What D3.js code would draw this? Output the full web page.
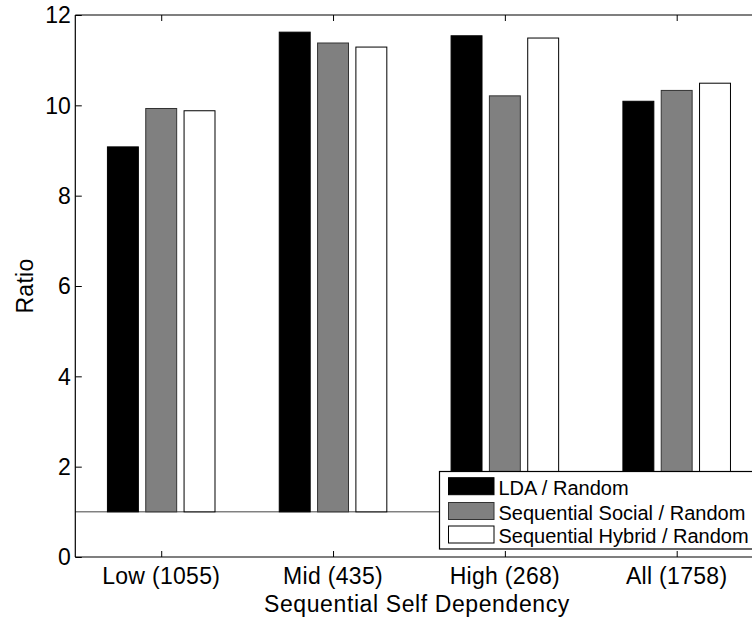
<!DOCTYPE html>
<html>
<head>
<meta charset="utf-8">
<script src="https://cdn.jsdelivr.net/npm/d3@7"></script>
<style>
  html, body { margin: 0; padding: 0; background: #fff; }
  svg { display: block; }
  text { font-family: "Liberation Sans", Arial, Helvetica, sans-serif; fill: #000; }
</style>
</head>
<body>
<svg id="chart" width="752" height="617"></svg>
<script>
// Ratio of each method over the random baseline, per dependency group
const categories = ["Low (1055)", "Mid (435)", "High (268)", "All (1758)"];
const seriesNames = ["LDA / Random", "Sequential Social / Random", "Sequential Hybrid / Random"];
const ldaValues     = [9.08, 11.62, 11.54, 10.09];
const socialValues  = [9.93, 11.38, 10.21, 10.33];
const hybridValues  = [9.88, 11.29, 11.49, 10.49];
const yTicks = [0, 2, 4, 6, 8, 10, 12];
const baselineValue = 1;

const series = [ldaValues, socialValues, hybridValues];
const fills   = ["#000000", "#808080", "#ffffff"];
const strokes = ["#000000", "#333333", "#000000"];

const svg = d3.select("#chart");

// Axes box: the right edge sits just past the window edge
const plotLeft = 75.3, plotRight = 762.6, plotTop = 15, plotBottom = 557;

const x = d3.scaleLinear().domain([0.5, categories.length + 0.5]).range([plotLeft, plotRight]);
const y = d3.scaleLinear().domain([0, 12]).range([plotBottom, plotTop]);

const groupOffset = 0.223;   // spacing between bars within a group (data units)
const barWidth = 0.18;       // bar width (data units)

// Baseline at ratio = 1
svg.append("line")
  .attr("x1", x(0.5)).attr("x2", x(categories.length + 0.5))
  .attr("y1", y(baselineValue)).attr("y2", y(baselineValue))
  .attr("stroke", "#444").attr("stroke-width", 1);

// Bars rise from the baseline
series.forEach((vals, j) => {
  svg.append("g").selectAll("rect")
    .data(vals)
    .join("rect")
    .attr("x", (d, i) => x(i + 1 + (j - 1) * groupOffset - barWidth / 2))
    .attr("width", x(barWidth) - x(0))
    .attr("y", d => y(d))
    .attr("height", d => y(baselineValue) - y(d))
    .attr("fill", fills[j])
    .attr("stroke", strokes[j])
    .attr("stroke-width", 1);
});

// Axes frame (left, top, bottom)
const frame = svg.append("g").attr("fill", "none").attr("stroke", "#000").attr("stroke-width", 1.2);
frame.append("line").attr("x1", plotLeft).attr("x2", plotLeft).attr("y1", plotTop).attr("y2", plotBottom);
frame.append("line").attr("x1", plotLeft).attr("x2", plotRight).attr("y1", plotTop).attr("y2", plotTop);
frame.append("line").attr("x1", plotLeft).attr("x2", plotRight).attr("y1", plotBottom).attr("y2", plotBottom);

// Y axis: inward ticks, labels on the left
const yAxis = d3.axisRight(y).tickValues(yTicks).tickSize(6.5).tickFormat("");
svg.append("g").attr("transform", `translate(${plotLeft},0)`).call(yAxis)
  .call(g => g.select(".domain").remove())
  .call(g => g.selectAll(".tick line").attr("stroke", "#000"));

svg.append("g").selectAll("text")
  .data(yTicks)
  .join("text")
  .attr("x", plotLeft - 4.5)
  .attr("y", d => y(d))
  .attr("dy", "0.36em")
  .attr("text-anchor", "end")
  .attr("font-size", 23)
  .text(d => d);

// X axis: inward ticks on bottom and top
const tickIdx = categories.map((c, i) => i + 1);
const xBottom = d3.axisTop(x).tickValues(tickIdx).tickSize(6).tickFormat("");
svg.append("g").attr("transform", `translate(0,${plotBottom})`).call(xBottom)
  .call(g => g.select(".domain").remove())
  .call(g => g.selectAll(".tick line").attr("stroke", "#000"));
const xTop = d3.axisBottom(x).tickValues(tickIdx).tickSize(6).tickFormat("");
svg.append("g").attr("transform", `translate(0,${plotTop})`).call(xTop)
  .call(g => g.select(".domain").remove())
  .call(g => g.selectAll(".tick line").attr("stroke", "#000"));

svg.append("g").selectAll("text")
  .data(categories)
  .join("text")
  .attr("x", (d, i) => x(i + 1))
  .attr("y", 584)
  .attr("text-anchor", "middle")
  .attr("font-size", 23)
  .attr("letter-spacing", 0.3)
  .text(d => d);

// Axis titles
svg.append("text")
  .attr("x", (x(0.5) + x(4.5)) / 2 - 2)
  .attr("y", 612)
  .attr("text-anchor", "middle")
  .attr("font-size", 23)
  .attr("letter-spacing", 0.6)
  .text("Sequential Self Dependency");

svg.append("text")
  .attr("transform", `translate(33,${(plotTop + plotBottom) / 2}) rotate(-90)`)
  .attr("text-anchor", "middle")
  .attr("font-size", 23)
  .attr("letter-spacing", 0.3)
  .text("Ratio");

// Legend
const legend = svg.append("g");
legend.append("rect")
  .attr("x", 439.5).attr("y", 471.5)
  .attr("width", 400).attr("height", 77.5)
  .attr("fill", "#fff").attr("stroke", "#000").attr("stroke-width", 1.2);

const rowTop = [477.7, 502.5, 526];
seriesNames.forEach((name, j) => {
  legend.append("rect")
    .attr("x", 448.5).attr("y", rowTop[j])
    .attr("width", 45.5).attr("height", 17)
    .attr("fill", fills[j]).attr("stroke", strokes[j]).attr("stroke-width", 1);
  legend.append("text")
    .attr("x", 498.5).attr("y", rowTop[j] + 17)
    .attr("font-size", 20)
    .text(name);
});
</script>
</body>
</html>
